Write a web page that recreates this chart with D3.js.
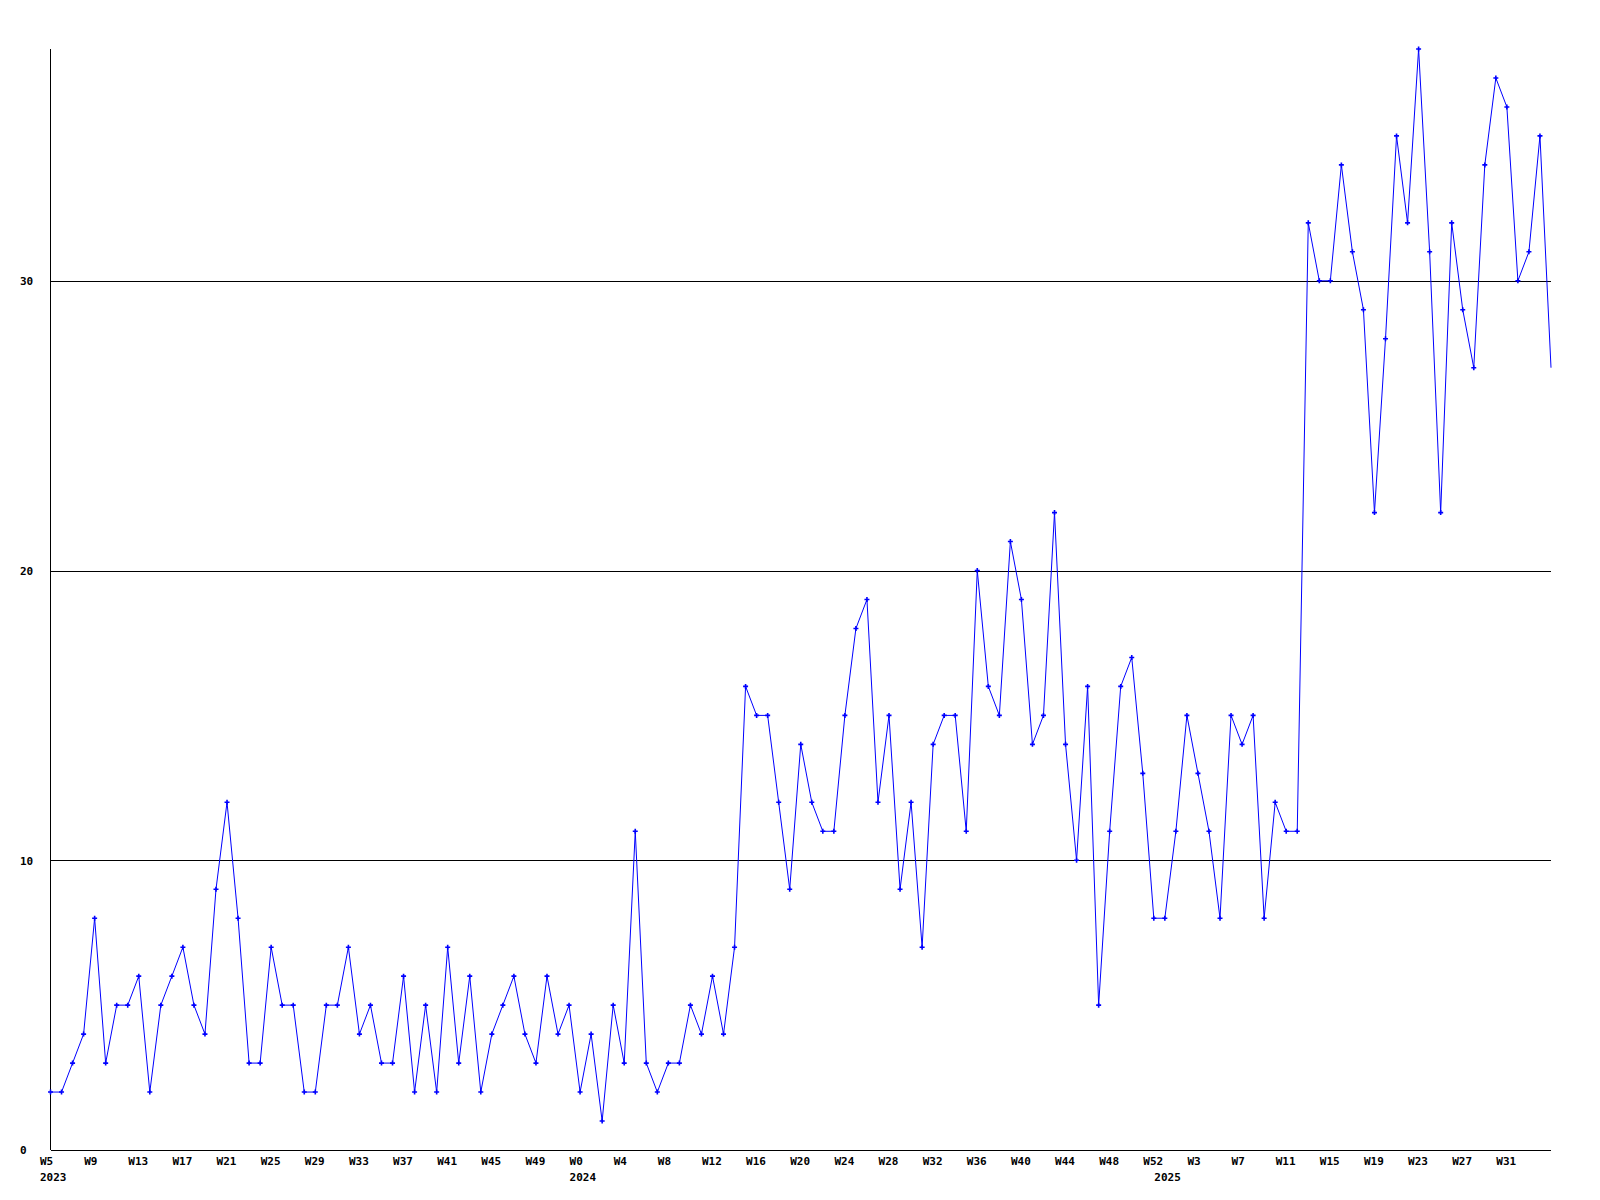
<!DOCTYPE html>
<html>
<head>
<meta charset="utf-8">
<script src="https://cdn.jsdelivr.net/npm/d3@7"></script>
<style>
  html, body { margin: 0; padding: 0; background: #fff; }
  svg { display: block; }
  text { font-family: "DejaVu Sans Mono", "Liberation Mono", monospace; font-weight: bold; font-size: 11px; fill: #000; }
</style>
</head>
<body>
<svg id="chart" width="1600" height="1200"></svg>
<script>
// Week ranges (year, first week, last week) covered by the series
const yearRanges = [["2023", 5, 52], ["2024", 0, 52], ["2025", 0, 35]];
// Weekly values, one per week in order
const values2023 = [2,2,3,4,8,3,5,5,6,2,5,6,7,5,4,9,12,8,3,3,7,5,5,2,2,5,5,7,4,5,3,3,6,2,5,2,7,3,6,2,4,5,6,4,3,6,4,5];
const values2024 = [2,4,1,5,3,11,3,2,3,3,5,4,6,4,7,16,15,15,12,9,14,12,11,11,15,18,19,12,15,9,12,7,14,15,15,11,20,16,15,21,19,14,15,22,14,10,16,5,11,16,17,13,8];
const values2025 = [8,11,15,13,11,8,15,14,15,8,12,11,11,32,30,30,34,31,29,22,28,35,32,38,31,22,32,29,27,34,37,36,30,31,35,27];
const yTicks = [0, 10, 20, 30];
const tickEvery = 4;
const markerless = 1; // last (incomplete) week drawn without a marker or label

const categories = [];
yearRanges.forEach(([yr, w0, w1]) => { for (let w = w0; w <= w1; w++) categories.push(yr + "-W" + w); });
const values = values2023.concat(values2024, values2025);
const data = categories.map((c, i) => ({ key: c, value: values[i] }));

const svg = d3.select("#chart");
const mLeft = 50.5, mRight = 1551, mTop = 49, mBottom = 1150;
const x = d3.scalePoint(categories, [mLeft, mRight]);
const y = d3.scaleLinear([0, 38], [mBottom, mTop]);

// gridlines
const grid = svg.append("g").attr("transform", `translate(${mLeft},0)`)
  .call(d3.axisLeft(y).tickValues(yTicks.filter(t => t > 0)).tickSize(-(mRight - mLeft)).tickFormat(""));
grid.select(".domain").remove();
grid.selectAll("line").attr("stroke", "#000").attr("shape-rendering", "crispEdges");

// y axis labels
const ya = svg.append("g").attr("transform", `translate(${mLeft},0)`)
  .call(d3.axisLeft(y).tickValues(yTicks).tickSize(0).tickFormat(d3.format("d")));
ya.select(".domain").remove();
ya.selectAll("text").attr("text-anchor", "start").attr("x", 20 - mLeft).attr("dy", "0.35em");

// axis lines
svg.append("line").attr("x1", mLeft).attr("x2", mLeft).attr("y1", mTop).attr("y2", mBottom)
  .attr("stroke", "#000").attr("shape-rendering", "crispEdges");
svg.append("line").attr("x1", mLeft).attr("x2", mRight).attr("y1", mBottom).attr("y2", mBottom)
  .attr("stroke", "#000").attr("shape-rendering", "crispEdges");

// x axis week labels
const tickCats = categories.filter((c, i) => i % tickEvery === 0 && i < categories.length - markerless);
const xa = svg.append("g").attr("transform", `translate(0,${mBottom})`)
  .call(d3.axisBottom(x).tickValues(tickCats).tickSize(0).tickFormat(c => c.split("-")[1]));
xa.select(".domain").remove();
xa.selectAll("text").attr("text-anchor", "start").attr("dx", -11).attr("y", 7).attr("dy", "0.71em");

// year labels at first week of each year
const yearCats = yearRanges.map(([yr, w0]) => yr + "-W" + w0);
const xy = svg.append("g").attr("transform", `translate(0,${mBottom})`)
  .call(d3.axisBottom(x).tickValues(yearCats).tickSize(0).tickFormat(c => c.split("-")[0]));
xy.select(".domain").remove();
xy.selectAll("text").attr("text-anchor", "start").attr("dx", -11).attr("y", 23).attr("dy", "0.71em");

// line
svg.append("path").datum(data)
  .attr("fill", "none").attr("stroke", "#0000ff").attr("stroke-width", 1)
  .attr("d", d3.line().x(d => x(d.key)).y(d => y(d.value)));

// markers
svg.append("g").selectAll("path").data(data.slice(0, data.length - markerless)).join("path")
  .attr("transform", d => `translate(${x(d.key)},${y(d.value)})`)
  .attr("d", "M-2.5,0H2.5M0,-2.5V2.5")
  .attr("stroke", "#0000ff").attr("stroke-width", 1.6).attr("fill", "none");
</script>
</body>
</html>
